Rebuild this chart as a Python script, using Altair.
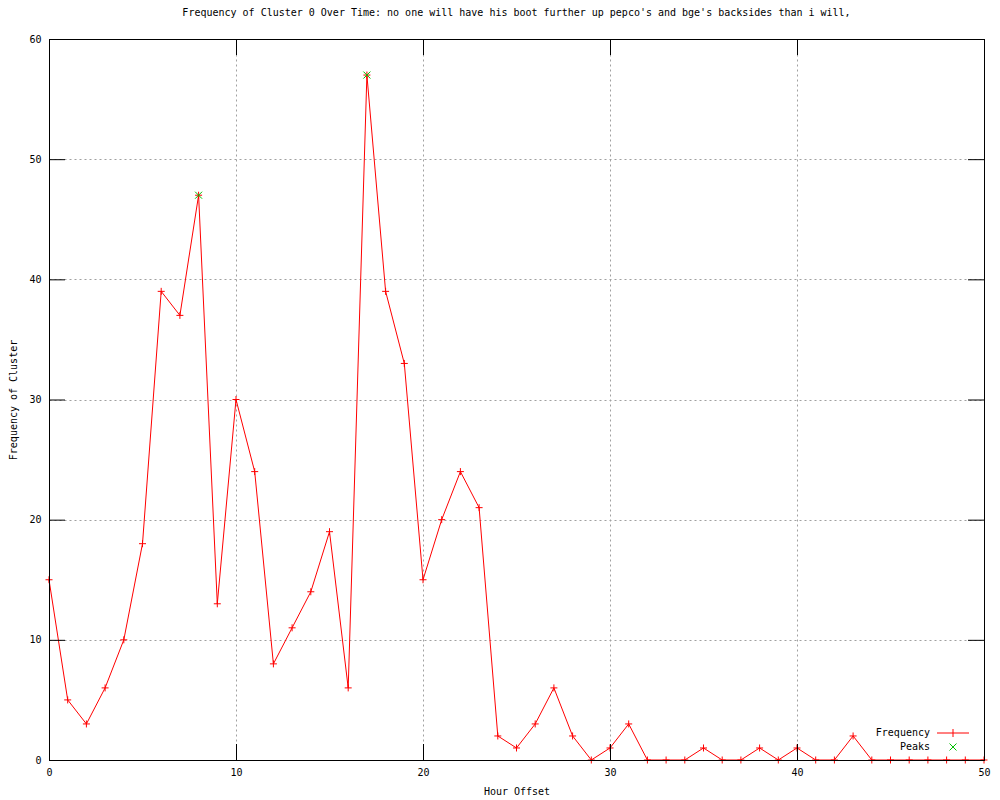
import altair as alt
import pandas as pd

# ---- data ----
hours = list(range(51))
freq = [15, 5, 3, 6, 10, 18, 39, 37, 47, 13,
        30, 24, 8, 11, 14, 19, 6, 57, 39, 33,
        15, 20, 24, 21, 2, 1, 3, 6, 2, 0,
        1, 3, 0, 0, 0, 1, 0, 0, 1, 0,
        1, 0, 0, 2, 0, 0, 0, 0, 0, 0, 0]
peak_hours = [8, 17]
peak_values = [47, 57]
x_ticks = [0, 10, 20, 30, 40, 50]
y_ticks = [0, 10, 20, 30, 40, 50, 60]
legend_labels = ["Frequency", "Peaks"]

title_text = ("Frequency of Cluster 0 Over Time: no one will have his boot further "
              "up pepco's and bge's backsides than i will,")

RED = "#ff0000"
GREEN = "#00c000"
FONT = "DejaVu Sans Mono"
W, H = 935, 721
TICK = 16

PLUS = "M-1,0H1M0,-1V1"
XMARK = "M-1,-1L1,1M-1,1L1,-1"
LEG_FREQ = "M-3.2,0H3.2M0,-0.8V0.8"
LEG_PEAK = "M-0.7,-0.7L0.7,0.7M-0.7,0.7L0.7,-0.7"

main = pd.DataFrame({"hour": hours, "freq": freq})
peaks = pd.DataFrame({"hour": peak_hours, "freq": peak_values})
xt = pd.DataFrame({"hour": x_ticks})
yt = pd.DataFrame({"freq": y_ticks})
leg = pd.DataFrame({"series": legend_labels})

xscale = alt.Scale(domain=[0, 50], nice=False, zero=False)
yscale = alt.Scale(domain=[0, 60], nice=False, zero=False)
xaxis = alt.Axis(values=x_ticks, grid=True, ticks=False, domain=False,
                 labelFlush=False, labelPadding=7, titlePadding=9)
yaxis = alt.Axis(values=y_ticks, grid=True, ticks=False, domain=False,
                 labelFlush=False, labelPadding=8, titlePadding=10)


def X(field="hour"):
    return alt.X(f"{field}:Q", scale=xscale, axis=xaxis, title="Hour Offset")


def Y(field="freq"):
    return alt.Y(f"{field}:Q", scale=yscale, axis=yaxis, title="Frequency of Cluster")


line = alt.Chart(main).mark_line(color=RED, strokeWidth=1).encode(x=X(), y=Y())
pts = alt.Chart(main).mark_point(shape=PLUS, size=49, filled=False, color=RED,
                                 strokeWidth=1, opacity=1).encode(x=X(), y=Y())
pk = alt.Chart(peaks).mark_point(shape=XMARK, size=49, filled=False, color=GREEN,
                                 strokeWidth=1, opacity=1).encode(x=X(), y=Y())

tick_bottom = alt.Chart(xt).mark_rule(color="black", strokeWidth=1, xOffset=0.5).encode(
    x=X(), y=alt.value(H), y2=alt.value(H - TICK))
tick_top = alt.Chart(xt).mark_rule(color="black", strokeWidth=1, xOffset=0.5).encode(
    x=X(), y=alt.value(0), y2=alt.value(TICK))
tick_left = alt.Chart(yt).mark_rule(color="black", strokeWidth=1, yOffset=0.5).encode(
    y=Y(), x=alt.value(0), x2=alt.value(TICK))
tick_right = alt.Chart(yt).mark_rule(color="black", strokeWidth=1, yOffset=0.5).encode(
    y=Y(), x=alt.value(W), x2=alt.value(W - TICK))

border = alt.Chart(leg).mark_rect(fillOpacity=0, stroke="black", strokeWidth=1,
                                  xOffset=0.5, x2Offset=0.5, yOffset=0.5, y2Offset=0.5).encode(
    x=alt.X(datum=0, type="quantitative", scale=xscale, axis=xaxis, title="Hour Offset"),
    x2=alt.X2(datum=50),
    y=alt.Y(datum=0, type="quantitative", scale=yscale, axis=yaxis, title="Frequency of Cluster"),
    y2=alt.Y2(datum=60),
)

legend = alt.Legend(title=None, orient="none", legendX=898.5, legendY=688.5,
                    labelFont=FONT, labelFontSize=10, labelColor="black",
                    labelAlign="right", labelOffset={"expr": "-28.5"}, padding=0,
                    symbolSize=100, symbolStrokeWidth=1, rowPadding=2)
leg_layer = alt.Chart(leg).transform_filter("false").mark_point(
    filled=False, size=100, strokeWidth=1, opacity=1).encode(
    color=alt.Color("series:N", scale=alt.Scale(domain=legend_labels, range=[RED, GREEN]),
                    legend=legend),
    shape=alt.Shape("series:N", scale=alt.Scale(domain=legend_labels, range=[LEG_FREQ, LEG_PEAK]),
                    legend=legend),
)

chart = alt.layer(line, pts, pk, tick_bottom, tick_top, tick_left, tick_right, border, leg_layer).properties(
    width=W, height=H,
    title=alt.Title(title_text, font=FONT, fontSize=10, fontWeight="normal",
                    color="black", offset=16, anchor="middle"),
    autosize=alt.AutoSizeParams(type="none"),
    padding={"left": 41, "top": 31, "right": 8, "bottom": 40},
).configure_view(stroke=None).configure_axis(
    labelFont=FONT, labelFontSize=10, labelColor="black",
    titleFont=FONT, titleFontSize=10, titleFontWeight="normal", titleColor="black",
    gridColor="#a0a0a0", gridDash=[2, 3], gridWidth=1, gridOpacity=1,
)

chart.save("out.html", embed_options={"renderer": "svg", "actions": False})
